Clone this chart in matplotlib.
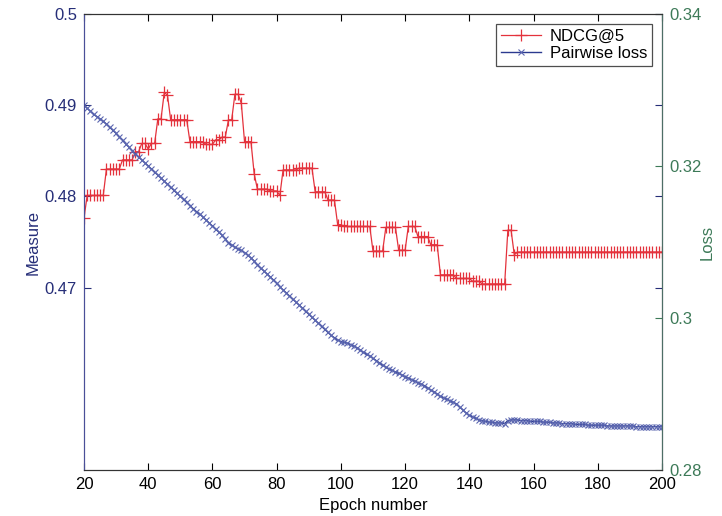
import numpy as np
import matplotlib
matplotlib.use("Agg")
import matplotlib.pyplot as plt

plt.rcParams['font.family'] = ['Liberation Sans', 'DejaVu Sans']

epochs = np.arange(20, 201)

# NDCG@5 per epoch (left axis)
ndcg5 = [
    0.4776, 0.4801, 0.4801, 0.4801, 0.4801, 0.4801, 0.4801, 0.4830, 0.4830, 0.4830,  # 20-29
    0.4830, 0.4830, 0.4840, 0.4840, 0.4840, 0.4840, 0.4849, 0.4849, 0.4858, 0.4858,  # 30-39
    0.4852, 0.4858, 0.4858, 0.4885, 0.4885, 0.4914, 0.4911, 0.4884, 0.4884, 0.4884,  # 40-49
    0.4884, 0.4884, 0.4884, 0.4860, 0.4860, 0.4860, 0.4860, 0.4860, 0.4857, 0.4857,  # 50-59
    0.4857, 0.4862, 0.4862, 0.4865, 0.4865, 0.4884, 0.4884, 0.4912, 0.4912, 0.4902,  # 60-69
    0.4860, 0.4860, 0.4860, 0.4825, 0.4808, 0.4808, 0.4808, 0.4808, 0.4806, 0.4806,  # 70-79
    0.4806, 0.4801, 0.4829, 0.4829, 0.4829, 0.4829, 0.4829, 0.4831, 0.4831, 0.4831,  # 80-89
    0.4831, 0.4831, 0.4805, 0.4805, 0.4805, 0.4805, 0.4796, 0.4796, 0.4796, 0.4769,  # 90-99
    0.4769, 0.4767, 0.4767, 0.4767, 0.4767, 0.4767, 0.4767, 0.4767, 0.4767, 0.4767,  # 100-109
    0.4740, 0.4740, 0.4740, 0.4740, 0.4766, 0.4766, 0.4766, 0.4766, 0.4741, 0.4741,  # 110-119
    0.4741, 0.4767, 0.4767, 0.4767, 0.4756, 0.4756, 0.4756, 0.4756, 0.4747, 0.4747,  # 120-129
    0.4747, 0.4714, 0.4714, 0.4714, 0.4714, 0.4714, 0.4710, 0.4710, 0.4710, 0.4710,  # 130-139
    0.4710, 0.4707, 0.4707, 0.4707, 0.4704, 0.4704, 0.4704, 0.4704, 0.4704, 0.4704,  # 140-149
    0.4704, 0.4704, 0.4763, 0.4763, 0.4736, 0.4739, 0.4739, 0.4739, 0.4739, 0.4739,  # 150-159
    0.4739, 0.4739, 0.4739, 0.4739, 0.4739, 0.4739, 0.4739, 0.4739, 0.4739, 0.4739,  # 160-169
    0.4739, 0.4739, 0.4739, 0.4739, 0.4739, 0.4739, 0.4739, 0.4739, 0.4739, 0.4739,  # 170-179
    0.4739, 0.4739, 0.4739, 0.4739, 0.4739, 0.4739, 0.4739, 0.4739, 0.4739, 0.4739,  # 180-189
    0.4739, 0.4739, 0.4739, 0.4739, 0.4739, 0.4739, 0.4739, 0.4739, 0.4739, 0.4739,  # 190-199
    0.4739,                                                                          # 200
]

# pairwise loss per epoch (right axis)
pair_loss = [
    0.3280, 0.3276, 0.3272, 0.3268, 0.3265, 0.3262, 0.3259, 0.3255, 0.3251, 0.3247,  # 20-29
    0.3243, 0.3238, 0.3234, 0.3229, 0.3225, 0.3220, 0.3216, 0.3212, 0.3208, 0.3204,  # 30-39
    0.3200, 0.3196, 0.3192, 0.3188, 0.3184, 0.3180, 0.3176, 0.3172, 0.3168, 0.3164,  # 40-49
    0.3160, 0.3156, 0.3152, 0.3148, 0.3144, 0.3140, 0.3137, 0.3133, 0.3129, 0.3125,  # 50-59
    0.3121, 0.3117, 0.3113, 0.3109, 0.3104, 0.3099, 0.3096, 0.3093, 0.3091, 0.3089,  # 60-69
    0.3086, 0.3083, 0.3079, 0.3075, 0.3070, 0.3066, 0.3062, 0.3058, 0.3054, 0.3050,  # 70-79
    0.3046, 0.3041, 0.3037, 0.3033, 0.3029, 0.3025, 0.3021, 0.3017, 0.3013, 0.3009,  # 80-89
    0.3005, 0.3001, 0.2997, 0.2993, 0.2989, 0.2985, 0.2981, 0.2977, 0.2974, 0.2971,  # 90-99
    0.2969, 0.2968, 0.2967, 0.2965, 0.2963, 0.2961, 0.2958, 0.2955, 0.2952, 0.2950,  # 100-109
    0.2947, 0.2944, 0.2941, 0.2938, 0.2935, 0.2933, 0.2931, 0.2929, 0.2927, 0.2925,  # 110-119
    0.2923, 0.2921, 0.2919, 0.2917, 0.2915, 0.2913, 0.2911, 0.2908, 0.2905, 0.2903,  # 120-129
    0.2900, 0.2897, 0.2895, 0.2893, 0.2891, 0.2889, 0.2887, 0.2883, 0.2879, 0.2875,  # 130-139
    0.2872, 0.2870, 0.2868, 0.2866, 0.2865, 0.2864, 0.2863, 0.2863, 0.2862, 0.2862,  # 140-149
    0.2862, 0.2861, 0.2865, 0.2866, 0.2866, 0.2866, 0.2865, 0.2865, 0.2865, 0.2864,  # 150-159
    0.2864, 0.2864, 0.2864, 0.2863, 0.2863, 0.2863, 0.2862, 0.2862, 0.2862, 0.2861,  # 160-169
    0.2861, 0.2861, 0.2861, 0.2860, 0.2860, 0.2860, 0.2860, 0.2859, 0.2859, 0.2859,  # 170-179
    0.2859, 0.2859, 0.2859, 0.2858, 0.2858, 0.2858, 0.2858, 0.2858, 0.2858, 0.2858,  # 180-189
    0.2858, 0.2858, 0.2857, 0.2857, 0.2857, 0.2857, 0.2857, 0.2857, 0.2857, 0.2857,  # 190-199
    0.2857,                                                                          # 200
]

x_ticks = [20, 40, 60, 80, 100, 120, 140, 160, 180, 200]
left_ticks = [0.47, 0.48, 0.49, 0.5]
right_ticks = [0.28, 0.3, 0.32, 0.34]

red = '#e4323c'
blue = '#2b3a8f'
navy = '#262e78'
green = '#3d7a58'

fig = plt.figure(figsize=(7.22, 5.16), dpi=100)
ax1 = fig.add_axes([0.1163, 0.0891, 0.8006, 0.8838])
ax2 = ax1.twinx()

l1, = ax1.plot(epochs, ndcg5, color=red, lw=0.9, marker='+', ms=8, mew=0.9,
               label='NDCG@5')
l2, = ax2.plot(epochs, pair_loss, color=blue, lw=1.0, marker='x', ms=4, mew=0.8,
               markeredgecolor='#5b66b0', label='Pairwise loss')

ax1.set_xlim(20, 200)
ax1.set_ylim(0.45, 0.5)
ax2.set_ylim(0.28, 0.34)

ax1.set_xticks(x_ticks)
ax1.set_yticks(left_ticks)
ax1.set_yticklabels(['0.47', '0.48', '0.49', '0.5'])
ax2.set_yticks(right_ticks)
ax2.set_yticklabels(['0.28', '0.3', '0.32', '0.34'])

ax1.tick_params(axis='x', direction='in', top=True, length=5, labelsize=12, pad=5)
ax1.tick_params(axis='y', direction='in', right=True, length=5, labelsize=12,
                pad=5, colors=navy)
ax2.tick_params(axis='y', direction='in', length=5, labelsize=12, pad=5,
                colors=green)

ax1.spines['left'].set_color('#4a4f98')
ax2.spines['left'].set_color('#4a4f98')
ax2.spines['right'].set_color('#4d6e66')
for ax in (ax1, ax2):
    ax.spines['top'].set_color('#333333')
    ax.spines['bottom'].set_color('#333333')

ax1.set_xlabel('Epoch number', fontsize=12, labelpad=4)
ax1.set_ylabel('Measure', fontsize=12, color=navy, labelpad=3)
ax2.set_ylabel('Loss', fontsize=12, color=green, labelpad=-1)

leg = ax2.legend(handles=[l1, l2], loc='upper right', fontsize=12,
                 frameon=True, fancybox=False, edgecolor='#222222',
                 borderpad=0.3, labelspacing=0.1, handlelength=2.4,
                 handletextpad=0.5, borderaxespad=0.6)
leg.get_frame().set_linewidth(0.9)

fig.savefig('out.png', dpi=100)
